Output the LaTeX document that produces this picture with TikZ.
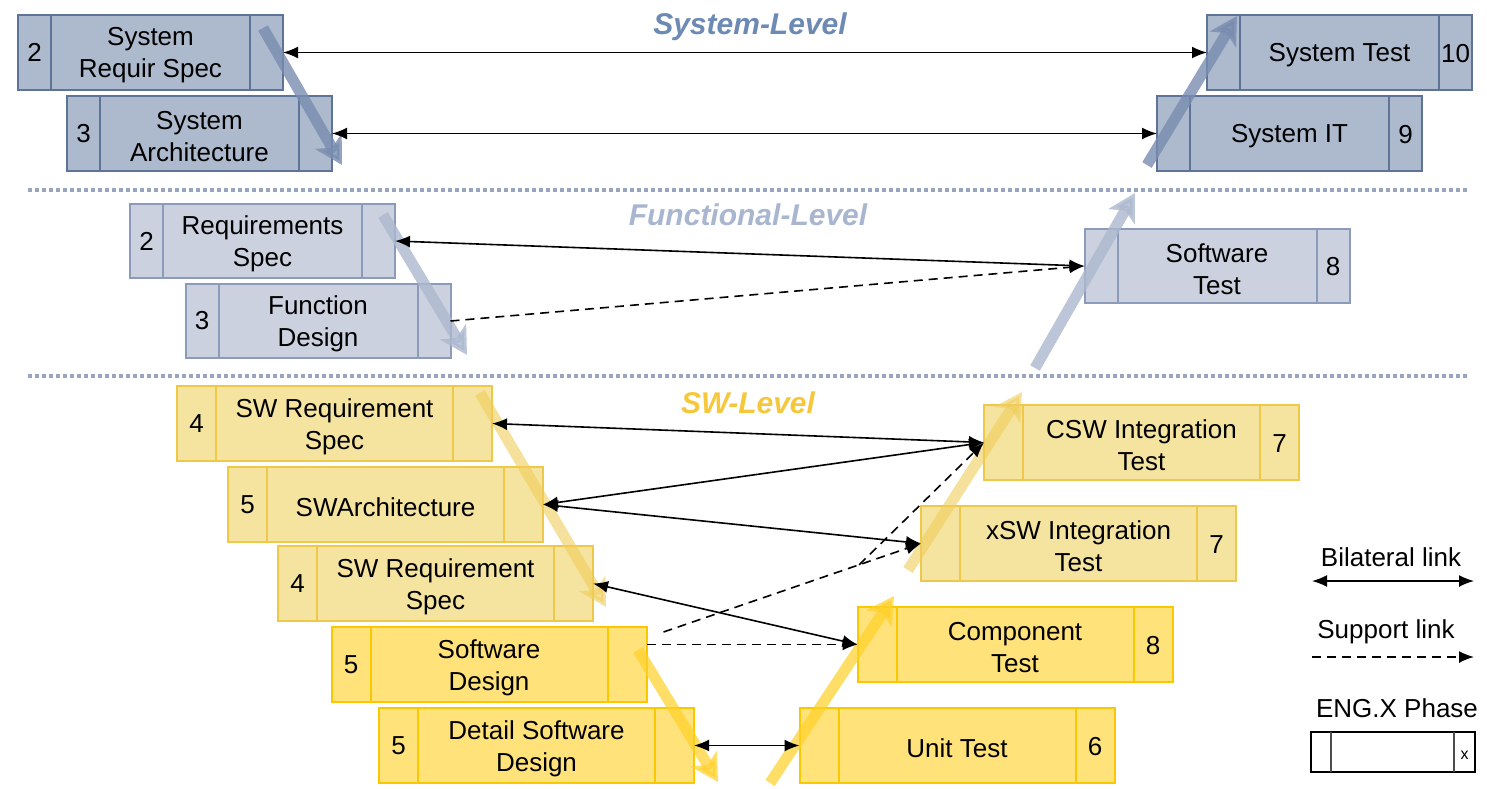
\documentclass[tikz,border=0pt]{standalone}
\usepackage{fontspec}
\setmainfont{Liberation Sans}
\usetikzlibrary{arrows.meta,calc}
\definecolor{sysfill}{RGB}{173,185,204}
\definecolor{sysdraw}{RGB}{94,115,152}
\definecolor{sysflow}{RGB}{120,140,176}
\definecolor{systitle}{RGB}{108,138,180}
\definecolor{funfill}{RGB}{203,209,222}
\definecolor{fundraw}{RGB}{140,155,185}
\definecolor{funflow}{RGB}{172,184,206}
\definecolor{funtitle}{RGB}{168,182,208}
\definecolor{swfill}{RGB}{245,228,160}
\definecolor{swdraw}{RGB}{238,200,70}
\definecolor{brightfill}{RGB}{255,226,122}
\definecolor{brightdraw}{RGB}{250,200,0}
\definecolor{swflow}{RGB}{240,205,90}
\definecolor{brightflow}{RGB}{255,208,40}
\definecolor{swtitle}{RGB}{245,200,60}
\definecolor{sepline}{RGB}{152,165,191}

% one phase: left cell, text, right cell
\newcommand{\phasebox}[7][33]{%
  \node[#2] (#3) at (#4) {};
  \draw[#2] ($(#3.north west)+(#1,0)$) -- ($(#3.south west)+(#1,0)$);
  \draw[#2] ($(#3.north east)-(#1,0)$) -- ($(#3.south east)-(#1,0)$);
  \node[boxtext, align=center] (#3-t) at ($(#3.center)+(0,3)$) {#6};
  \node[boxtext] (#3-l) at ($(#3.west)+(#1/2,0)$) {#5};
  \node[boxtext] (#3-r) at ($(#3.east)-(#1/2,-1)$) {#7};
}

\begin{document}
\begin{tikzpicture}[x=1pt,y=-1pt,
  >={Latex[length=15pt,width=12pt]},
  boxtext/.style={inner sep=0pt, font=\fontsize{26}{32}\selectfont},
  phase/.style={line width=2pt, outer sep=0pt, inner sep=0pt, minimum height=75pt},
  sysbox/.style={phase, draw=sysdraw, fill=sysfill, minimum width=265pt},
  funbox/.style={phase, draw=fundraw, fill=funfill, minimum width=265pt, minimum height=74pt},
  swbox/.style={phase, draw=swdraw, fill=swfill, minimum width=315pt},
  brightbox/.style={phase, draw=brightdraw, fill=brightfill, minimum width=315pt},
  leveltitle/.style={font=\fontsize{30}{34}\selectfont\bfseries\itshape},
  levelsep/.style={sepline, line width=4pt, dash pattern=on 4pt off 3pt},
  vflow/.style={line width=11pt, -{Stealth[length=27pt,width=30pt,inset=7pt]}},
  link/.style={line width=1.6pt},
  support/.style={link, dash pattern=on 9pt off 6pt},
  legendtext/.style={font=\fontsize{26}{30}\selectfont}]
\useasboundingbox (0,0) rectangle (1487,788);

% level titles and separators
\node[leveltitle, text=systitle] (t-sys) at (750,27) {System-Level};
\node[leveltitle, text=funtitle] (t-fun) at (748,215) {Functional-Level};
\node[leveltitle, text=swtitle] (t-sw) at (748,403) {SW-Level};
\draw[levelsep] (28,190) -- (1467,190);
\draw[levelsep] (28,376) -- (1467,376);

% System level
\phasebox{sysbox}{srs}{150.5,52.5}{2}{System\\Requir Spec}{}
\phasebox{sysbox}{sarch}{199.5,133.5}{3}{System\\Architecture}{}
\phasebox{sysbox}{stest}{1339.5,52.5}{}{System Test}{10}
\phasebox{sysbox}{sit}{1289.5,133.5}{}{System IT}{9}

% Functional level
\phasebox{funbox}{reqs}{262.5,241}{2}{Requirements\\Spec}{}
\phasebox{funbox}{fdes}{318,321}{3}{Function\\Design}{}
\phasebox{funbox}{swt}{1217,266}{}{Software\\Test}{8}

% SW level
\phasebox[39]{swbox}{swreqa}{334.5,423.5}{4}{SW Requirement\\Spec}{}
\phasebox[39]{swbox}{swarch}{385.5,504.5}{5}{SWArchitecture}{}
\phasebox[39]{swbox}{swreqb}{435.5,583.5}{4}{SW Requirement\\Spec}{}
\phasebox[39]{brightbox}{sdes}{489,664.5}{5}{Software\\Design}{}
\phasebox[39]{brightbox}{dsd}{536.5,745.5}{5}{Detail Software\\Design}{}
\phasebox[39]{swbox}{csw}{1141.5,442.5}{}{CSW Integration\\Test}{7}
\phasebox[39]{swbox}{xsw}{1078.5,543.5}{}{xSW Integration\\Test}{7}
\phasebox[39]{brightbox}{cmp}{1015,644.5}{}{Component\\Test}{8}
\phasebox[39]{brightbox}{ut}{957,745.5}{}{Unit Test}{6}

% V flow
\draw[vflow, sysflow, opacity=0.8] (263,28) -- (342,165);
\draw[vflow, sysflow, opacity=0.8] (1147,165) -- (1237,16);
\draw[vflow, funflow, opacity=0.8] (383,215) -- (467,355);
\draw[vflow, funflow, opacity=0.8] (1035,368) -- (1135,193);
\draw[vflow, swflow, opacity=0.6] (480,393) -- (606,607);
\draw[vflow, brightflow, opacity=0.7] (638,650) -- (718,782);
\draw[vflow, brightflow, opacity=0.7] (770,783) -- (894,596);
\draw[vflow, swflow, opacity=0.6] (908,570) -- (1022,392);

% links
\draw[link, <->] (srs.east) -- (stest.west);
\draw[link, <->] (sarch.east) -- (sit.west);
\draw[link, <->] (reqs.east) -- (swt.west);
\draw[support, ->] (fdes.east) -- (swt.west);
\draw[link, <->] (swreqa.east) -- (csw.west);
\draw[link, <->] (swarch.east) -- (csw.west);
\draw[link, <->] (swarch.east) -- (xsw.west);
\draw[link, <->] (swreqb.east) -- (cmp.west);
\draw[support, ->] (sdes.east |- cmp.west) -- (cmp.west);
\coordinate (sdlink) at ($(sdes.north east)+(17,5)$);
\coordinate (branch) at ($(sdlink)!0.76!(xsw.west)$);
\draw[support, ->] (sdlink) -- (xsw.west);
\draw[support, ->] (branch) -- (csw.west);
\draw[link, <->] (dsd.east) -- (ut.west);

% legend
\node[legendtext] (lg-bi) at (1391,557) {Bilateral link};
\coordinate (bi-a) at (1312,581);
\coordinate (bi-b) at (1474,581);
\draw[link, <->] (bi-a) -- (bi-b);
\node[legendtext] (lg-sup) at (1386,632) {Support link};
\coordinate (sup-a) at (1312,657);
\coordinate (sup-b) at (1474,657);
\draw[support, ->] (sup-a) -- (sup-b);
\node[legendtext] (lg-eng) at (1397,708) {ENG.X Phase};
\node[draw, line width=1.6pt, minimum width=164pt, minimum height=40pt, inner sep=0pt,
  outer sep=0pt] (lg-box) at (1393,752) {};
\draw[line width=1.2pt, black!70] ($(lg-box.north west)+(20,0)$) -- ($(lg-box.south west)+(20,0)$);
\draw[line width=1.2pt, black!70] ($(lg-box.north east)-(21,0)$) -- ($(lg-box.south east)-(21,0)$);
\node[font=\fontsize{16}{18}\selectfont, inner sep=0pt] (lg-x) at ($(lg-box.east)-(10.5,-3)$) {x};
\end{tikzpicture}
\end{document}
